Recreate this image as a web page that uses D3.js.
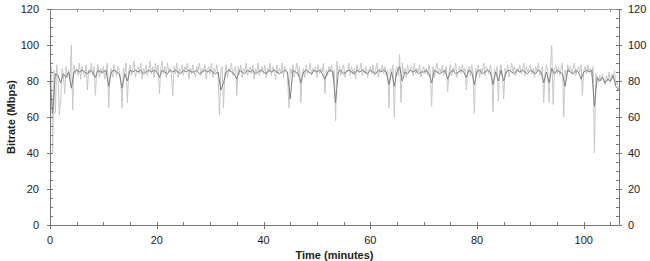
<!DOCTYPE html>
<html>
<head>
<meta charset="utf-8">
<script src="https://cdnjs.cloudflare.com/ajax/libs/d3/7.8.5/d3.min.js"></script>
<style>
body{margin:0;background:#fff;}
text{font-family:"Liberation Sans",Arial,sans-serif;}
</style>
</head>
<body>
<div id="canvas"></div>
<script>
// bitrate (Mbps), light trace sampled every 0.25 min
var lightStep = 0.25;
var lightVals = [
 84,88,40,86,62,89,83,61,69,87,84,73,88,82,86,80,100,64,89,84,
 87,83,90,81,88,85,82,89,75,86,84,90,83,88,72,85,89,82,87,84,
 88,81,86,90,65,84,87,82,89,85,83,88,86,81,65,87,84,90,68,85,
 89,83,87,91,82,86,88,84,90,81,87,85,89,83,86,91,84,88,82,90,
 85,89,73,87,91,84,88,82,90,85,87,83,72,88,84,90,82,87,85,89,
 83,88,86,90,81,87,84,89,85,82,88,86,90,83,87,85,89,81,86,88,
 84,90,82,87,85,89,83,61,86,88,65,84,89,82,87,85,90,83,86,88,
 72,88,84,89,82,87,85,90,83,86,88,84,89,81,87,85,90,83,86,88,
 84,89,82,87,85,90,83,88,86,81,89,84,87,85,90,82,88,86,83,65,
 87,84,89,82,86,90,83,88,68,85,87,82,89,84,86,90,83,87,85,88,
 82,89,84,87,85,90,73,86,83,88,85,89,82,86,58,91,84,88,83,87,
 89,82,86,85,90,83,88,84,87,81,89,85,86,90,83,87,84,88,82,86,
 88,84,89,83,86,90,82,87,85,89,84,88,83,86,65,87,84,89,60,86,
 88,83,95,68,90,84,87,82,89,85,86,88,83,90,84,87,85,89,82,86,
 88,84,87,83,89,85,66,88,82,86,90,84,87,85,89,83,86,88,74,85,
 89,83,87,85,90,82,86,88,84,89,85,87,75,86,88,83,89,85,62,87,
 84,89,82,87,85,90,83,88,86,84,89,85,63,87,84,88,69,86,89,83,
 70,87,84,89,82,86,90,85,88,83,87,85,89,84,86,90,83,88,85,87,
 89,84,87,82,88,85,90,83,86,88,68,84,89,85,68,87,100,67,86,89,
 84,88,83,87,90,60,86,82,89,85,88,84,87,90,83,86,88,85,89,72,
 86,88,84,89,85,87,83,88,40,84,82,79,83,80,84,81,78,83,80,85,
 79,84,81,86,78,80,75,77
];
// darker trace sampled every 0.5 min
var darkStep = 0.5;
var darkVals = [
 80,62,84,83,79,84,82,85,76,85,86,85,86,85,84,86,85,82,86,85,
 85,86,77,85,86,85,84,76,84,80,86,85,86,85,86,84,85,86,85,86,
 85,82,86,85,84,86,85,86,85,84,86,85,86,85,85,86,84,85,86,85,
 86,85,84,85,75,79,85,86,85,84,81,86,85,84,86,85,86,84,85,86,
 85,84,86,85,86,85,84,85,86,85,70,86,85,84,79,85,86,85,84,86,
 85,86,84,81,85,86,85,68,85,86,84,85,86,85,84,86,85,86,85,84,
 86,85,84,86,85,86,85,78,85,77,85,88,80,85,84,86,85,86,84,85,
 85,86,84,79,86,85,84,85,86,81,85,86,84,85,86,85,82,86,85,78,
 85,86,84,85,86,85,78,85,80,86,80,85,86,85,84,86,85,86,85,84,
 86,85,84,86,85,79,85,79,87,84,86,85,84,77,86,85,84,86,85,81,
 85,86,85,86,66,82,80,82,79,81,80,83,77,75
];
var xTicks = [0, 20, 40, 60, 80, 100];
var yTicks = [0, 20, 40, 60, 80, 100, 120];

var W = 650, H = 261;
var mLeft = 50, mRight = 619, mTop = 9, mBottom = 225;

var svg = d3.select("#canvas").append("svg")
	.attr("width", W)
	.attr("height", H);

var x = d3.scaleLinear().domain([0, 106.6]).range([mLeft, mRight]);
var y = d3.scaleLinear().domain([0, 120]).range([mBottom, mTop]);

var light = lightVals.map(function(v, i){ return {t: i * lightStep, v: v}; });
var dark = darkVals.map(function(v, i){ return {t: i * darkStep, v: v}; });

var line = d3.line()
	.x(function(d){ return x(d.t); })
	.y(function(d){ return y(d.v); });

svg.append("path").datum(light)
	.attr("d", line)
	.attr("fill", "none")
	.attr("stroke", "#c8c8c8")
	.attr("stroke-width", 1);

svg.append("path").datum(dark)
	.attr("d", line)
	.attr("fill", "none")
	.attr("stroke", "#808080")
	.attr("stroke-width", 1);

// frame
var axisCol = "#777";
svg.append("line").attr("x1", mLeft).attr("x2", mRight).attr("y1", mTop + 0.5).attr("y2", mTop + 0.5)
	.attr("stroke", "#999");
svg.append("line").attr("x1", mLeft).attr("x2", mRight).attr("y1", mBottom + 0.5).attr("y2", mBottom + 0.5)
	.attr("stroke", axisCol);
svg.append("line").attr("x1", mLeft + 0.5).attr("x2", mLeft + 0.5).attr("y1", mTop).attr("y2", mBottom)
	.attr("stroke", axisCol);
svg.append("line").attr("x1", mRight + 0.5).attr("x2", mRight + 0.5).attr("y1", mTop).attr("y2", mBottom)
	.attr("stroke", axisCol);

var minorX = d3.range(0, 106, 5);
var minorY = d3.range(0, 121, 5);

// bottom and top ticks
svg.selectAll(".bx").data(minorX).enter().append("line")
	.attr("x1", function(d){ return Math.round(x(d)) + 0.5; })
	.attr("x2", function(d){ return Math.round(x(d)) + 0.5; })
	.attr("y1", function(d){ return d % 20 === 0 ? mBottom + 4 : mBottom; })
	.attr("y2", mBottom - 3)
	.attr("stroke", axisCol);
svg.selectAll(".tx").data(minorX).enter().append("line")
	.attr("x1", function(d){ return Math.round(x(d)) + 0.5; })
	.attr("x2", function(d){ return Math.round(x(d)) + 0.5; })
	.attr("y1", mTop)
	.attr("y2", mTop + 3)
	.attr("stroke", "#999");

// left and right ticks
svg.selectAll(".ly").data(minorY).enter().append("line")
	.attr("y1", function(d){ return Math.round(y(d)) + 0.5; })
	.attr("y2", function(d){ return Math.round(y(d)) + 0.5; })
	.attr("x1", function(d){ return d % 20 === 0 ? mLeft - 3 : mLeft; })
	.attr("x2", mLeft + 3)
	.attr("stroke", axisCol);
svg.selectAll(".ry").data(minorY).enter().append("line")
	.attr("y1", function(d){ return Math.round(y(d)) + 0.5; })
	.attr("y2", function(d){ return Math.round(y(d)) + 0.5; })
	.attr("x1", mRight - 3)
	.attr("x2", function(d){ return d % 20 === 0 ? mRight + 3 : mRight; })
	.attr("stroke", axisCol);

// labels
svg.selectAll(".xl").data(xTicks).enter().append("text")
	.attr("x", function(d){ return x(d); })
	.attr("y", mBottom + 19)
	.attr("text-anchor", "middle")
	.attr("font-size", 11)
	.attr("fill", "#222")
	.text(function(d){ return d; });
svg.selectAll(".yl").data(yTicks).enter().append("text")
	.attr("x", mLeft - 11)
	.attr("y", function(d){ return y(d) + 4; })
	.attr("text-anchor", "end")
	.attr("font-size", 11)
	.attr("fill", "#222")
	.text(function(d){ return d; });
svg.selectAll(".yr").data(yTicks).enter().append("text")
	.attr("x", mRight + 9)
	.attr("y", function(d){ return y(d) + 4; })
	.attr("text-anchor", "start")
	.attr("font-size", 11)
	.attr("fill", "#222")
	.text(function(d){ return d; });

svg.append("text")
	.attr("x", (mLeft + mRight) / 2)
	.attr("y", 259)
	.attr("text-anchor", "middle")
	.attr("font-size", 11)
	.attr("font-weight", "bold")
	.attr("fill", "#222")
	.text("Time (minutes)");
svg.append("text")
	.attr("transform", "translate(15," + ((mTop + mBottom) / 2) + ") rotate(-90)")
	.attr("text-anchor", "middle")
	.attr("font-size", 11)
	.attr("font-weight", "bold")
	.attr("fill", "#222")
	.text("Bitrate (Mbps)");
</script>
</body>
</html>
